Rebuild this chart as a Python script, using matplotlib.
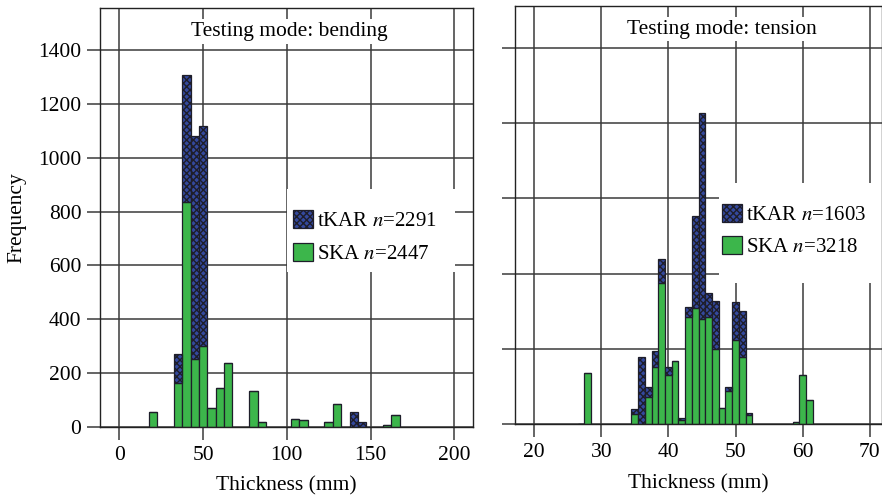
import numpy as np
import matplotlib
matplotlib.use("Agg")
import matplotlib.pyplot as plt
from matplotlib.patches import Patch, Rectangle

plt.rcParams['font.family'] = ['Liberation Serif', 'DejaVu Serif']
plt.rcParams['mathtext.fontset'] = 'stix'
plt.rcParams['hatch.linewidth'] = 1.0
plt.rcParams['font.size'] = 15.5

# bending (bin width 5 mm)
bend_x = [20, 35, 40, 45, 50, 55, 60, 65, 80, 85, 105, 110, 125, 130, 140, 145, 160, 165]
bend_ska = [57, 164, 837, 252, 300, 72, 144, 239, 135, 17, 28, 25, 17, 84, 0, 0, 9, 43]
bend_tkar = [0, 106, 470, 827, 818, 0, 0, 0, 0, 0, 0, 0, 0, 0, 55, 17, 0, 0]

# tension (bin width 1 mm)
tens_x = [27, 28, 35, 36, 37, 38, 39, 40, 41, 42, 43, 44, 45, 46, 47, 48, 49, 50, 51, 52, 59, 60, 61]
tens_ska = [2, 136, 28, 0, 72, 152, 376, 130, 168, 12, 284, 310, 280, 286, 200, 42, 88, 224, 180, 26, 6, 130, 64]
tens_tkar = [0, 0, 12, 178, 28, 42, 64, 22, 0, 6, 28, 244, 548, 62, 128, 0, 10, 102, 122, 4, 0, 0, 0]

green = '#3cb64b'
blue = '#34499e'
edge = '#1e1e2a'

W, H = 882, 498
fig = plt.figure(figsize=(W / 100, H / 100), dpi=100)
ax1 = fig.add_axes([100 / W, 1 - 427 / H, 373.3 / W, 418.7 / H])
ax2 = fig.add_axes([515 / W, 1 - 424.3 / H, 367 / W, 418.6 / H])


def draw(ax, x, ska, tkar, width):
    ax.bar(x, ska, width=width, color=green, edgecolor=edge, linewidth=0.9, zorder=2)
    ax.bar(x, tkar, width=width, bottom=ska, color=blue, edgecolor=edge,
           hatch='xxxxx', linewidth=0.9, zorder=2)
    ax.set_axisbelow(True)
    ax.grid(True, color='#3a3a3a', linewidth=1.1)
    ax.tick_params(direction='out', length=9.5, width=1.1, color='#3a3a3a', pad=4)
    for s in ax.spines.values():
        s.set_color('#222222')
        s.set_linewidth(1.0)


def legend(ax, labels, box, anchor, spacing):
    # white box hiding the grid, then a frameless legend on it
    x0, y0, x1, y1 = box
    ax.add_patch(Rectangle((x0 / W, 1 - y1 / H), (x1 - x0) / W, (y1 - y0) / H,
                           transform=fig.transFigure, facecolor='white',
                           edgecolor='none', zorder=1.5, clip_on=False))
    leg = ax.legend(handles=[Patch(facecolor=blue, edgecolor=edge, hatch='xxxxx', linewidth=0.9),
                             Patch(facecolor=green, edgecolor=edge, linewidth=0.9)],
                    labels=labels, fontsize=15,
                    loc='upper left', bbox_to_anchor=(anchor[0] / W, 1 - anchor[1] / H),
                    bbox_transform=fig.transFigure, borderaxespad=0, borderpad=0,
                    frameon=False, handlelength=0.96, handleheight=0.96,
                    handletextpad=0.2, labelspacing=spacing)
    leg.set_zorder(5)


draw(ax1, bend_x, bend_ska, bend_tkar, 5)
ax1.set_xlim(-11.6, 211.4)
ax1.set_ylim(0, 1555)
ax1.set_xticks([0, 50, 100, 150, 200])
ax1.set_yticks(range(0, 1401, 200))
ax1.set_ylabel('Frequency', labelpad=8)
ax1.set_xlabel('Thickness (mm)', labelpad=8.5)
ax1.text(101.5, 1468, 'Testing mode: bending', ha='center', va='center',
         bbox=dict(facecolor='white', edgecolor='none', pad=2), zorder=3)
legend(ax1, [r'tKAR $n$=2291', r'SKA $n$=2447'], (287, 189, 455, 272), (292.7, 210), 0.57)

draw(ax2, tens_x, tens_ska, tens_tkar, 1)
ax2.set_xlim(17.17, 71.8)
ax2.set_ylim(0, 1112)
ax2.set_xticks([20, 30, 40, 50, 60, 70])
ax2.set_yticks(range(0, 1001, 200))
ax2.set_yticklabels([])
ax2.set_xlabel('Thickness (mm)', labelpad=8.5)
ax2.text(48, 1050, 'Testing mode: tension', ha='center', va='center',
         bbox=dict(facecolor='white', edgecolor='none', pad=2), zorder=3)
legend(ax2, [r'tKAR $n$=1603', r'SKA $n$=3218'], (719, 183, 882, 283), (722, 204), 0.5)

fig.savefig('out.png', dpi=100)
